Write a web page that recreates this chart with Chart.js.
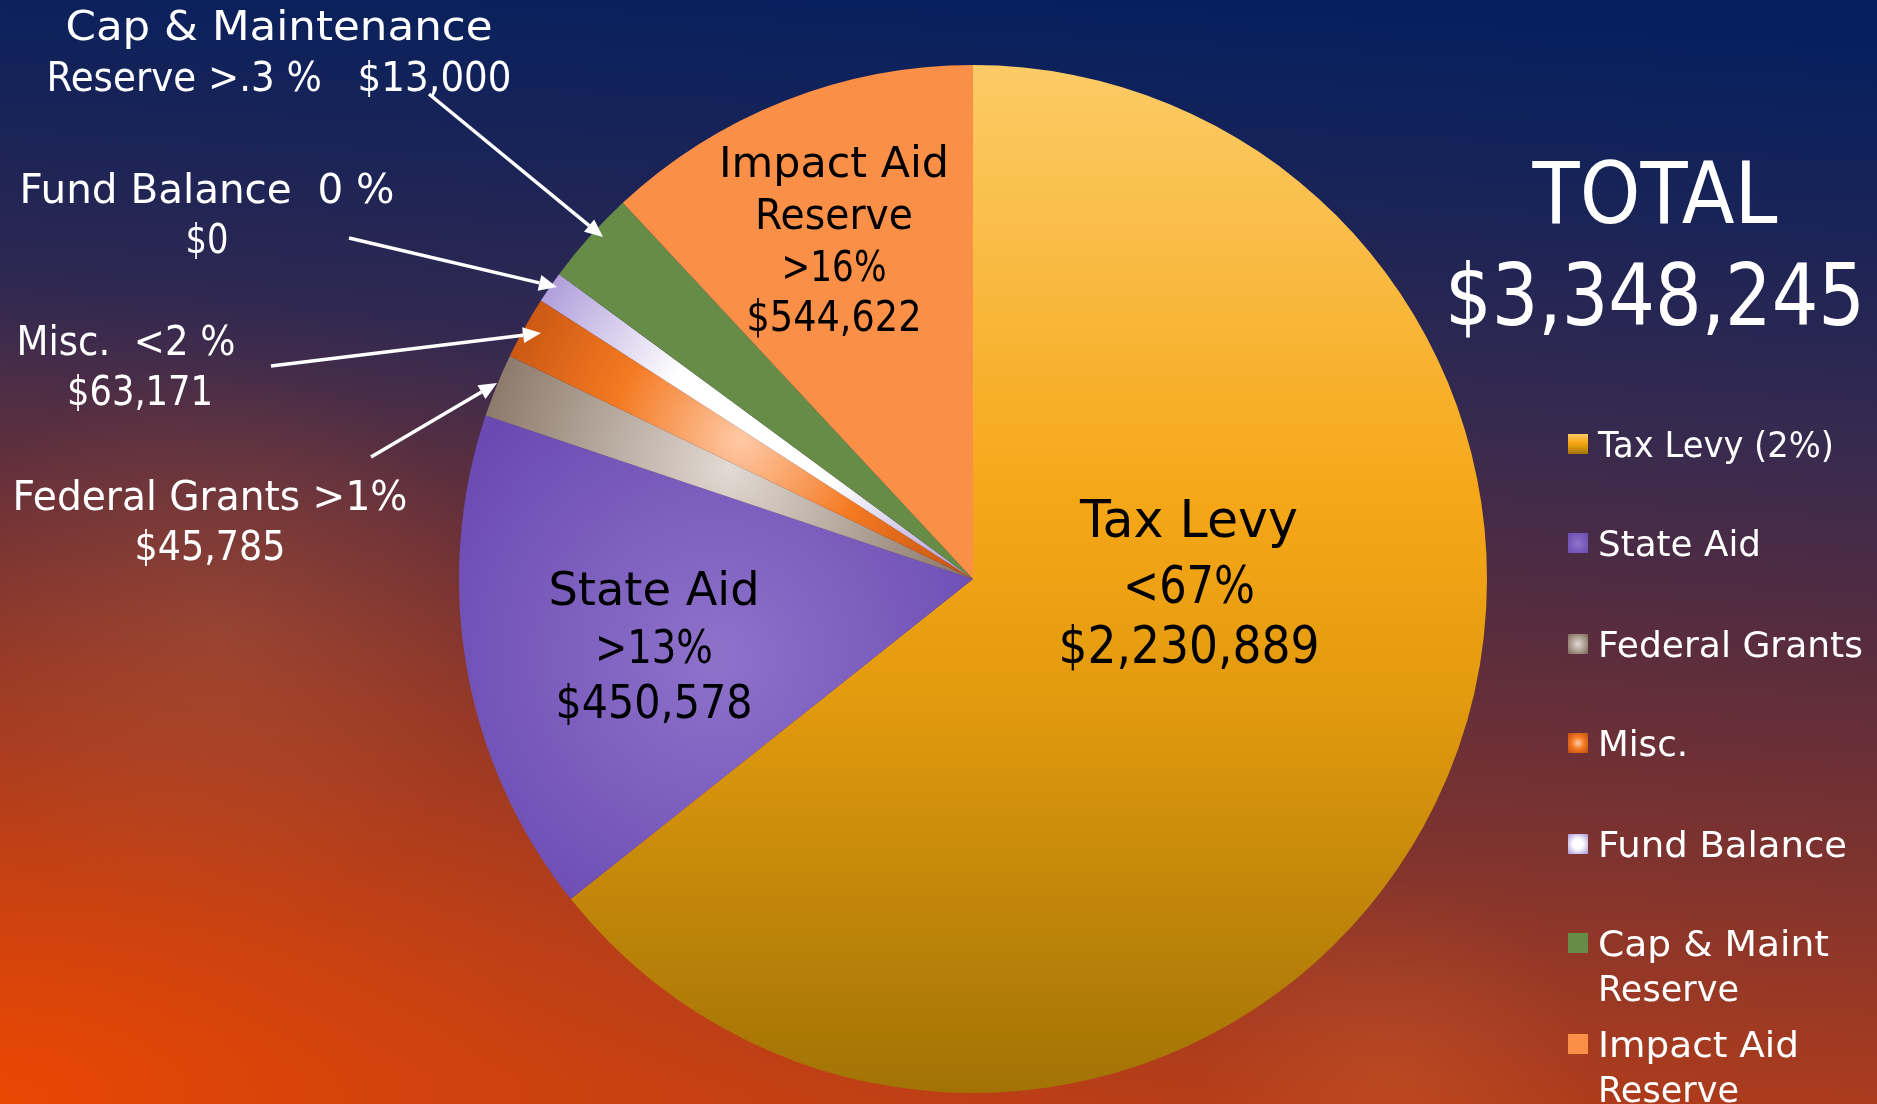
<!DOCTYPE html>
<html>
<head>
<meta charset="utf-8">
<script src="https://cdn.jsdelivr.net/npm/chart.js@4.4.1/dist/chart.umd.min.js"></script>
<style>
  html, body { margin: 0; padding: 0; background: #1a2456; overflow: hidden; }
  #wrap { width: 1877px; height: 1104px; position: relative; }
  canvas { display: block; }
</style>
</head>
<body>
<div id="wrap"><canvas id="c" width="1877" height="1104"></canvas></div>
<script>
// ---------------- DATA ----------------
const categories = ['Tax Levy (2%)', 'State Aid', 'Federal Grants', 'Misc.', 'Fund Balance', 'Cap & Maint Reserve', 'Impact Aid Reserve'];
// slice shares as drawn in the picture (percent of the circle)
const sliceShares = [64.3, 15.85, 1.99, 1.97, 0.99, 2.97, 11.93];
const legendLines = [['Tax Levy (2%)'], ['State Aid'], ['Federal Grants'], ['Misc.'], ['Fund Balance'], ['Cap & Maint', 'Reserve'], ['Impact Aid', 'Reserve']];
const taxLevyLabel = ['Tax Levy', '<67%', '$2,230,889'];
const stateAidLabel = ['State Aid', '>13%', '$450,578'];
const impactAidLabel = ['Impact Aid', 'Reserve', '>16%', '$544,622'];
const capLabel = ['Cap & Maintenance', 'Reserve >.3 %   $13,000'];
const fundBalanceLabel = ['Fund Balance  0 %', '$0'];
const miscLabel = ['Misc.  <2 %', '$63,171'];
const federalLabel = ['Federal Grants >1%', '$45,785'];
const totalLabel = ['TOTAL', '$3,348,245'];

// ---------------- STYLE / LAYOUT ----------------
const FONT = '"DejaVu Sans", "Noto Sans", sans-serif';
// slice fill styles: linear, radial (centre colour, edge colour), or solid
const sliceStyles = [
  { type: 'linear', stops: [[0, '#FCCB66'], [0.42, '#F6A718'], [0.62, '#E29A0E'], [1, '#A27305']] },
  { type: 'radial', stops: [[0, '#8E72CA'], [1, '#6A4AB2']] },
  { type: 'radial', stops: [[0, '#E2DAD3'], [1, '#7A6555']] },
  { type: 'radial', stops: [[0, '#FEC9A6'], [0.45, '#F47A22'], [1, '#BD4C0D']] },
  { type: 'radial', stops: [[0, '#FFFFFF'], [0.35, '#FFFFFF'], [1, '#A793D6']] },
  { type: 'solid', color: '#668C48' },
  { type: 'solid', color: '#FA8F48' }
];

const insideLayouts = [
  { lines: taxLevyLabel, x: 1189, baselines: [537, 603, 663], size: 52, widths: [218, 132, 261], color: '#000' },
  { lines: stateAidLabel, x: 654, baselines: [605, 663, 718], size: 46, widths: [211, 118, 197], color: '#000' },
  { lines: impactAidLabel, x: 834, baselines: [177, 229, 281, 331], size: 42, widths: [230, 158, 105, 175], color: '#000' }
];
const calloutLayouts = [
  { lines: capLabel, xs: [279, 279], baselines: [40, 91], widths: [427, 465] },
  { lines: fundBalanceLabel, xs: [207, 207], baselines: [203, 253], widths: [375, 43] },
  { lines: miscLabel, xs: [126, 140], baselines: [355, 405], widths: [219, 146] },
  { lines: federalLabel, xs: [210, 210], baselines: [510, 560], widths: [395, 151] }
];
const arrows = [[429, 94, 603, 237], [349, 238, 557, 287], [271, 366, 541, 333], [371, 457, 497, 383]];
const legendLayout = { swatchX: 1568, swatch: 20, textX: 1598, rows: [444, 543, 644, 743, 844, 943, 1044], lineGap: 45, size: 36,
  widths: [[236], [163], [265], [90], [249], [231, 141], [201, 141]] };
const totalLayout = { x: 1655, baselines: [223, 325], size: 85, widths: [245, 420] };

// ---------------- HELPERS ----------------
function fitText(ctx, text, x, baseline, size, width, align) {
  ctx.font = size + 'px ' + FONT;
  const m = ctx.measureText(text).width;
  const sx = width ? width / m : 1;
  ctx.save();
  ctx.translate(x, baseline);
  ctx.scale(sx, 1);
  ctx.textAlign = align || 'center';
  ctx.textBaseline = 'alphabetic';
  ctx.fillText(text, 0, 0);
  ctx.restore();
}

function pieGeom(chart) {
  const ca = chart.chartArea;
  return { cx: (ca.left + ca.right) / 2, cy: (ca.top + ca.bottom) / 2, r: Math.min(ca.width, ca.height) / 2 };
}

function sliceBox(chart, i) {
  const g = pieGeom(chart);
  const total = sliceShares.reduce((a, b) => a + b, 0);
  let acc = 0;
  for (let j = 0; j < i; j++) acc += sliceShares[j];
  const a0 = -Math.PI / 2 + acc / total * Math.PI * 2;
  const a1 = a0 + sliceShares[i] / total * Math.PI * 2;
  const pts = [[g.cx, g.cy], [g.cx + g.r * Math.cos(a0), g.cy + g.r * Math.sin(a0)], [g.cx + g.r * Math.cos(a1), g.cy + g.r * Math.sin(a1)]];
  for (let k = -2; k <= 6; k++) {
    const a = k * Math.PI / 2;
    if (a > a0 && a < a1) pts.push([g.cx + g.r * Math.cos(a), g.cy + g.r * Math.sin(a)]);
  }
  const xs = pts.map(p => p[0]), ys = pts.map(p => p[1]);
  const minX = Math.min(...xs), maxX = Math.max(...xs), minY = Math.min(...ys), maxY = Math.max(...ys);
  return { g, bx: (minX + maxX) / 2, by: (minY + maxY) / 2, w: maxX - minX, h: maxY - minY };
}

function sliceFill(context) {
  const chart = context.chart;
  const i = context.dataIndex;
  if (i === undefined || !chart.chartArea) return '#888';
  const st = sliceStyles[i];
  const ctx = chart.ctx;
  if (st.type === 'solid') return st.color;
  if (st.type === 'linear') {
    const g = pieGeom(chart);
    const lg = ctx.createLinearGradient(g.cx, g.cy - g.r, g.cx, g.cy + g.r);
    st.stops.forEach(s => lg.addColorStop(s[0], s[1]));
    return lg;
  }
  const b = sliceBox(chart, i);
  const rad = Math.max(b.w, b.h) * 0.62;
  const rg = ctx.createRadialGradient(b.bx, b.by, 0, b.bx, b.by, rad);
  st.stops.forEach(s => rg.addColorStop(s[0], s[1]));
  return rg;
}

function swatchFill(ctx, i, x, y, s) {
  const st = sliceStyles[i];
  if (st.type === 'solid') return st.color;
  if (st.type === 'linear') {
    const lg = ctx.createLinearGradient(x, y, x, y + s);
    st.stops.forEach(q => lg.addColorStop(q[0], q[1]));
    return lg;
  }
  const rg = ctx.createRadialGradient(x + s / 2, y + s / 2, 0, x + s / 2, y + s / 2, s * 0.7);
  st.stops.forEach(q => rg.addColorStop(q[0], q[1]));
  return rg;
}

function paintBackground(ctx, W, H) {
  const lg = ctx.createLinearGradient(1000, 0, 940, H);
  lg.addColorStop(0, '#06205E');
  lg.addColorStop(0.18, '#1C2456');
  lg.addColorStop(0.36, '#372A4F');
  lg.addColorStop(0.53, '#562C3F');
  lg.addColorStop(0.72, '#7A3230');
  lg.addColorStop(0.9, '#A13A22');
  lg.addColorStop(1, '#B43C18');
  ctx.fillStyle = lg;
  ctx.fillRect(0, 0, W, H);
  // warm glow bottom-left (elliptical)
  ctx.save();
  ctx.translate(0, H);
  ctx.scale(1.7, 1);
  const rg = ctx.createRadialGradient(0, 0, 0, 0, 0, 820);
  rg.addColorStop(0, 'rgba(236,72,2,0.95)');
  rg.addColorStop(0.15, 'rgba(236,72,2,0.72)');
  rg.addColorStop(0.4, 'rgba(232,72,6,0.45)');
  rg.addColorStop(0.7, 'rgba(225,72,10,0.22)');
  rg.addColorStop(1, 'rgba(225,72,10,0)');
  ctx.fillStyle = rg;
  ctx.fillRect(-10, -H - 10, W, H + 20);
  ctx.restore();
  // soft light spots
  const s1 = ctx.createRadialGradient(220, 640, 0, 220, 640, 280);
  s1.addColorStop(0, 'rgba(200,115,75,0.22)');
  s1.addColorStop(1, 'rgba(200,115,75,0)');
  ctx.fillStyle = s1; ctx.fillRect(0, 0, W, H);
  const s2 = ctx.createRadialGradient(1390, 1080, 0, 1390, 1080, 200);
  s2.addColorStop(0, 'rgba(225,105,45,0.28)');
  s2.addColorStop(1, 'rgba(225,105,45,0)');
  ctx.fillStyle = s2; ctx.fillRect(0, 0, W, H);
}

function drawArrow(ctx, x1, y1, x2, y2) {
  const ang = Math.atan2(y2 - y1, x2 - x1);
  const L = 18, hw = 8;
  const bx = x2 - L * Math.cos(ang), by = y2 - L * Math.sin(ang);
  ctx.strokeStyle = '#FFFFFF';
  ctx.fillStyle = '#FFFFFF';
  ctx.lineWidth = 3.5;
  ctx.lineCap = 'butt';
  ctx.beginPath(); ctx.moveTo(x1, y1); ctx.lineTo(bx, by); ctx.stroke();
  ctx.beginPath();
  ctx.moveTo(x2, y2);
  ctx.lineTo(bx + hw * Math.sin(ang), by - hw * Math.cos(ang));
  ctx.lineTo(bx - hw * Math.sin(ang), by + hw * Math.cos(ang));
  ctx.closePath(); ctx.fill();
}

const decorPlugin = {
  id: 'decor',
  beforeDraw(chart) {
    const ctx = chart.ctx;
    ctx.save();
    paintBackground(ctx, chart.width, chart.height);
    ctx.restore();
  },
  afterDraw(chart) {
    const ctx = chart.ctx;
    ctx.save();
    // inside labels
    insideLayouts.forEach(L => {
      ctx.fillStyle = L.color;
      L.lines.forEach((t, k) => fitText(ctx, t, L.x, L.baselines[k], L.size, L.widths[k], 'center'));
    });
    // callouts
    ctx.fillStyle = '#FFFFFF';
    calloutLayouts.forEach(L => {
      L.lines.forEach((t, k) => fitText(ctx, t, L.xs[k], L.baselines[k], 40, L.widths[k], 'center'));
    });
    arrows.forEach(a => drawArrow(ctx, a[0], a[1], a[2], a[3]));
    // total
    ctx.fillStyle = '#FFFFFF';
    totalLabel.forEach((t, k) => fitText(ctx, t, totalLayout.x, totalLayout.baselines[k], totalLayout.size, totalLayout.widths[k], 'center'));
    // legend
    const lg = legendLayout;
    legendLines.forEach((lines, i) => {
      const cy = lg.rows[i];
      const sy = cy - lg.swatch / 2;
      ctx.fillStyle = swatchFill(ctx, i, lg.swatchX, sy, lg.swatch);
      ctx.fillRect(lg.swatchX, sy, lg.swatch, lg.swatch);
      ctx.fillStyle = '#FFFFFF';
      lines.forEach((t, k) => fitText(ctx, t, lg.textX, cy + 13 + k * lg.lineGap, lg.size, lg.widths[i][k], 'left'));
    });
    ctx.restore();
  }
};

new Chart(document.getElementById('c'), {
  type: 'pie',
  data: {
    labels: categories,
    datasets: [{
      data: sliceShares,
      backgroundColor: sliceFill,
      borderWidth: 0,
      hoverOffset: 0
    }]
  },
  options: {
    responsive: false,
    maintainAspectRatio: false,
    animation: false,
    rotation: 0,
    layout: { padding: { left: 459, right: 390, top: 65, bottom: 11 } },
    plugins: {
      legend: { display: false },
      tooltip: { enabled: false },
      title: { display: false }
    }
  },
  plugins: [decorPlugin]
});
</script>
</body>
</html>
